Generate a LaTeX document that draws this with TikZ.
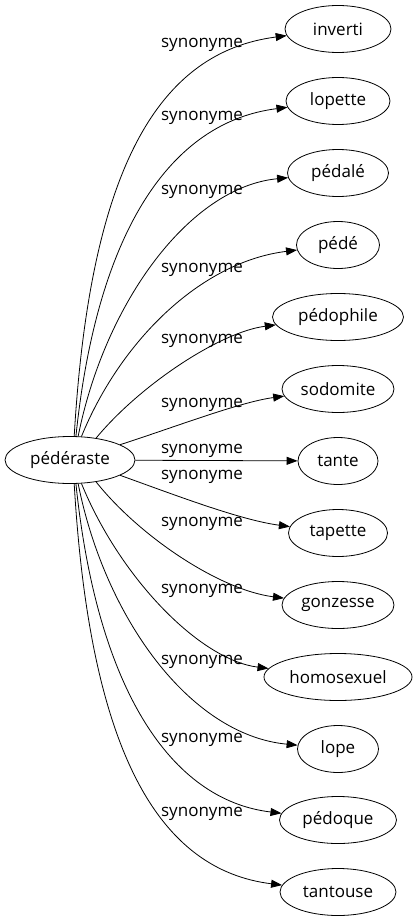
\documentclass[tikz,border=0pt]{standalone}
\usepackage{fontspec}
\setmainfont{Open Sans}
\usetikzlibrary{arrows.meta,shapes.geometric}
\begin{document}
\begin{tikzpicture}[x=1pt,y=-1pt,
  term/.style={draw,ellipse,inner sep=0pt,minimum height=47pt,font=\fontsize{17}{20}\selectfont,line width=0.8pt},
  lab/.style={font=\fontsize{17}{20}\selectfont,inner sep=0pt},
  syn/.style={draw,line width=0.8pt,-{Triangle[length=11pt,width=8pt]}}]
\useasboundingbox (0,0) rectangle (419,923);
\node[term,minimum width=130pt] (src) at (70,460) {pédéraste};
\node[term,minimum width=106pt] (t1) at (338,29) {inverti};
\node[term,minimum width=104pt] (t2) at (338,101) {lopette};
\node[term,minimum width=101pt] (t3) at (338,173) {pédalé};
\node[term,minimum width=83pt] (t4) at (338,245) {pédé};
\node[term,minimum width=131pt] (t5) at (338,317) {pédophile};
\node[term,minimum width=112pt] (t6) at (338,389) {sodomite};
\node[term,minimum width=80pt] (t7) at (338,461) {tante};
\node[term,minimum width=99pt] (t8) at (338,533) {tapette};
\node[term,minimum width=112pt] (t9) at (338,605) {gonzesse};
\node[term,minimum width=148pt] (t10) at (338,677) {homosexuel};
\node[term,minimum width=81pt] (t11) at (338,749) {lope};
\node[term,minimum width=117pt] (t12) at (338,820) {pédoque};
\node[term,minimum width=116pt] (t13) at (338,892) {tantouse};
\path[syn] (src.80) .. controls (90,165) and (160,52) .. (t1);
\path[syn] (src.76) .. controls (97,232) and (170,122) .. (t2);
\path[syn] (src.71) .. controls (105,302) and (190,187) .. (t3);
\path[syn] (src.64) .. controls (120,342) and (200,262) .. (t4);
\path[syn] (src.40) .. controls (140,385) and (220,332) .. (t5);
\path[syn] (src.17) .. controls (175,427) and (240,402) .. (t6);
\path[syn] (src) -- (t7);
\path[syn] (src.-17) .. controls (175,495) and (240,520) .. (t8);
\path[syn] (src.-40) .. controls (140,537) and (220,590) .. (t9);
\path[syn] (src.-64) .. controls (120,578) and (200,660) .. (t10);
\path[syn] (src.-71) .. controls (105,618) and (190,735) .. (t11);
\path[syn] (src.-76) .. controls (97,688) and (170,800) .. (t12);
\path[syn] (src.-80) .. controls (90,755) and (160,870) .. (t13);
\node[lab] (l1) at (202,45) {synonyme};
\node[lab] (l2) at (202,118) {synonyme};
\node[lab] (l3) at (202,192) {synonyme};
\node[lab] (l4) at (202,270) {synonyme};
\node[lab] (l5) at (202,341) {synonyme};
\node[lab] (l6) at (202,405) {synonyme};
\node[lab] (l7) at (202,451) {synonyme};
\node[lab] (l8) at (202,477) {synonyme};
\node[lab] (l9) at (202,524) {synonyme};
\node[lab] (l10) at (202,591) {synonyme};
\node[lab] (l11) at (202,662) {synonyme};
\node[lab] (l12) at (202,740) {synonyme};
\node[lab] (l13) at (202,814) {synonyme};
\end{tikzpicture}
\end{document}
